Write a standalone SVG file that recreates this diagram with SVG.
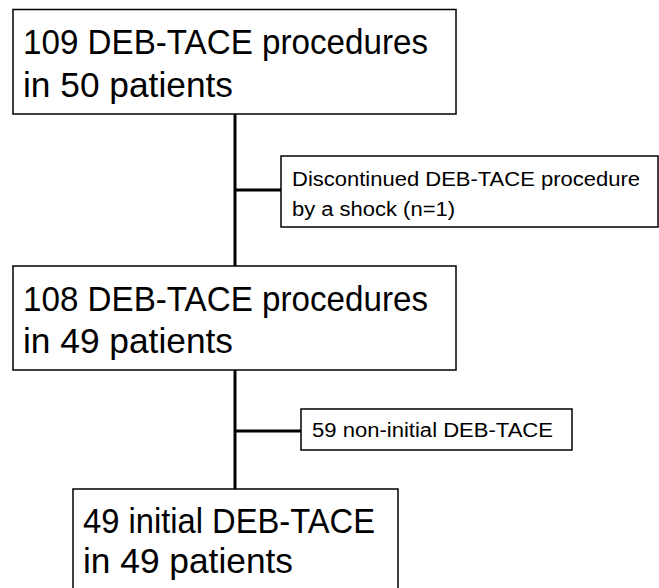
<svg xmlns="http://www.w3.org/2000/svg" width="659" height="588" viewBox="0 0 659 588">
<style>
.box{fill:#fff;stroke:#000;stroke-width:1.5}
.big{font-family:"Liberation Sans",Arial,sans-serif;font-size:35px;fill:#000}
.small{font-family:"Liberation Sans",Arial,sans-serif;font-size:19.5px;fill:#000}
.conn{stroke:#000;stroke-width:3;fill:none}
</style>
<rect width="659" height="588" fill="#fff"/>
<g id="connectors">
<line class="conn" x1="235" y1="114" x2="235" y2="266"/>
<line class="conn" x1="235" y1="190" x2="281" y2="190"/>
<line class="conn" x1="235" y1="370" x2="235" y2="489"/>
<line class="conn" x1="235" y1="431" x2="301" y2="431"/>
</g>
<g id="node1">
<rect class="box" x="13" y="9.5" width="443" height="104.5"/>
<text class="big" x="23" y="54" textLength="405" lengthAdjust="spacingAndGlyphs">109 DEB-TACE procedures</text>
<text class="big" x="23" y="97" textLength="210" lengthAdjust="spacingAndGlyphs">in 50 patients</text>
</g>
<g id="node2">
<rect class="box" x="281" y="156" width="377" height="71"/>
<text class="small" x="292" y="186" textLength="348" lengthAdjust="spacingAndGlyphs">Discontinued DEB-TACE procedure</text>
<text class="small" x="292" y="216" textLength="163" lengthAdjust="spacingAndGlyphs">by a shock (n=1)</text>
</g>
<g id="node3">
<rect class="box" x="13" y="266" width="443" height="104"/>
<text class="big" x="23" y="311" textLength="405" lengthAdjust="spacingAndGlyphs">108 DEB-TACE procedures</text>
<text class="big" x="23" y="353" textLength="210" lengthAdjust="spacingAndGlyphs">in 49 patients</text>
</g>
<g id="node4">
<rect class="box" x="301" y="409" width="271" height="41"/>
<text class="small" x="312" y="437" textLength="241" lengthAdjust="spacingAndGlyphs">59 non-initial DEB-TACE</text>
</g>
<g id="node5">
<rect class="box" x="73" y="489" width="325" height="110"/>
<text class="big" x="83" y="533" textLength="292" lengthAdjust="spacingAndGlyphs">49 initial DEB-TACE</text>
<text class="big" x="83" y="573" textLength="210" lengthAdjust="spacingAndGlyphs">in 49 patients</text>
</g>
</svg>
